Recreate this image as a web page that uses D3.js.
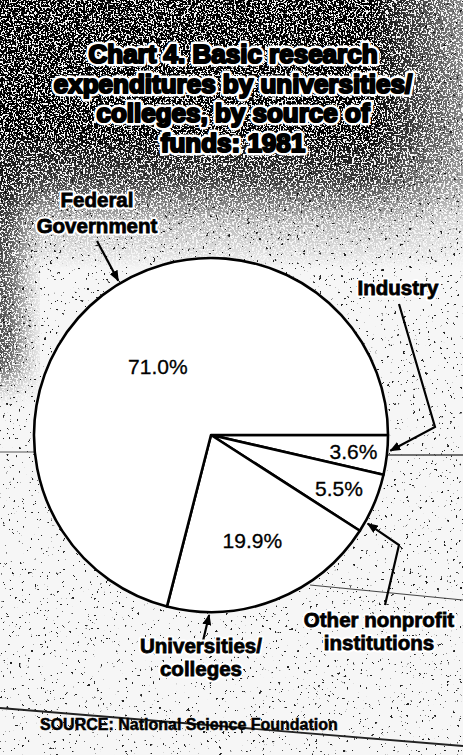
<!DOCTYPE html>
<html><head><meta charset="utf-8">
<script src="https://cdn.jsdelivr.net/npm/d3@7"></script>
<style>html,body{margin:0;padding:0;background:#fff;} svg{display:block;}</style>
</head><body>
<script>
// ---- data ----
const titleLines = ["Chart 4. Basic research", "expenditures by universities/", "colleges, by source of", "funds: 1981"];
const categories = ["Industry", "Other nonprofit institutions", "Universities/colleges", "Federal Government"];
const shares = [3.6, 5.5, 19.9, 71.0];
const shareLabels = ["3.6%", "5.5%", "19.9%", "71.0%"];
const categoryLabelLines = [["Industry"], ["Other nonprofit", "institutions"], ["Universities/", "colleges"], ["Federal", "Government"]];
const sourceNote = "SOURCE: National Science Foundation";

// ---- layout ----
const W = 463, H = 755;
const cx = 211, cy = 435, R = 177;
const FONT = "'Liberation Sans', Arial, Helvetica, sans-serif";

const svg = d3.select("body").append("svg").attr("width", W).attr("height", H);
const defs = svg.append("defs");

function speckFilter(id, freq, thresh, seed, oct) {
  const f = defs.append("filter").attr("id", id)
    .attr("filterUnits", "userSpaceOnUse").attr("x", 0).attr("y", 0).attr("width", W).attr("height", H)
    .attr("color-interpolation-filters", "sRGB");
  f.append("feTurbulence").attr("type", "fractalNoise").attr("baseFrequency", freq)
    .attr("numOctaves", oct).attr("seed", seed).attr("result", "n");
  const k = 25;
  f.append("feColorMatrix").attr("in", "n").attr("type", "matrix")
    .attr("values", `0 0 0 0 0  0 0 0 0 0  0 0 0 0 0  ${k} 0 0 0 ${-k * thresh}`);
}
speckFilter("speckLight", 0.32, 0.71, 7, 3);
speckFilter("speckDense", 0.55, 0.43, 3, 2);

const blur = defs.append("filter").attr("id", "mblur").attr("x", "-50%").attr("y", "-50%").attr("width", "200%").attr("height", "200%");
blur.append("feGaussianBlur").attr("stdDeviation", 14);

// density mask for dark top region
const g1 = defs.append("linearGradient").attr("id", "gTop").attr("x1", 0).attr("y1", 0).attr("x2", 0).attr("y2", 1);
[[0, 1], [0.22, 1], [0.3, 0.75], [0.37, 0.25], [0.45, 0]].forEach(([o, a]) =>
  g1.append("stop").attr("offset", o).attr("stop-color", "#fff").attr("stop-opacity", a));
const g2 = defs.append("linearGradient").attr("id", "gRight").attr("x1", 0).attr("y1", 0).attr("x2", 1).attr("y2", 0);
[[0, 1], [0.8, 1], [1, 0.45]].forEach(([o, a]) =>
  g2.append("stop").attr("offset", o).attr("stop-color", "#fff").attr("stop-opacity", a));

const m = defs.append("mask").attr("id", "darkMask").attr("maskUnits", "userSpaceOnUse")
  .attr("x", 0).attr("y", 0).attr("width", W).attr("height", H);
m.append("rect").attr("width", W).attr("height", 600).attr("fill", "url(#gTop)");
m.append("rect").attr("x", -20).attr("y", 160).attr("width", 40).attr("height", 220)
  .attr("fill", "#fff").attr("fill-opacity", 0.75).attr("filter", "url(#mblur)");
const m2 = defs.append("mask").attr("id", "rightFade").attr("maskUnits", "userSpaceOnUse")
  .attr("x", 0).attr("y", 0).attr("width", W).attr("height", H);
m2.append("rect").attr("width", W).attr("height", H).attr("fill", "url(#gRight)");

// arrow marker
defs.append("marker").attr("id", "arrow").attr("markerUnits", "userSpaceOnUse")
  .attr("markerWidth", 11).attr("markerHeight", 9).attr("refX", 10).attr("refY", 4.5).attr("orient", "auto")
  .append("path").attr("d", "M0,0 L11,4.5 L0,9 Z").attr("fill", "#000");

// ---- background ----
svg.append("rect").attr("width", W).attr("height", H).attr("fill", "#f6f6f6");
svg.append("rect").attr("width", W).attr("height", H).attr("filter", "url(#speckLight)").attr("opacity", 0.85);
const dark = svg.append("g").attr("mask", "url(#rightFade)");
dark.append("rect").attr("width", W).attr("height", H).attr("filter", "url(#speckDense)").attr("mask", "url(#darkMask)");

// scan artifact lines
const art = svg.append("g").attr("fill", "none").attr("stroke", "#222");
art.append("line").attr("x1", 0).attr("y1", 708).attr("x2", W).attr("y2", 746).attr("stroke-width", 1.8);
art.append("line").attr("x1", 388).attr("y1", 455).attr("x2", W).attr("y2", 455).attr("stroke-width", 1.3).attr("stroke", "#444");
art.append("line").attr("x1", 0).attr("y1", 452).attr("x2", 36).attr("y2", 452).attr("stroke-width", 1.2).attr("stroke", "#555");
art.append("line").attr("x1", 310).attr("y1", 585).attr("x2", W).attr("y2", 600).attr("stroke-width", 1.2).attr("stroke", "#444");

// ---- title ----
const title = svg.append("g").attr("font-family", FONT).attr("font-weight", "bold").attr("font-size", 26)
  .attr("text-anchor", "middle");
titleLines.forEach((t, i) => {
  const y = 63 + i * 29.5;
  title.append("text").attr("x", 233).attr("y", y).text(t)
    .attr("fill", "#fff").attr("stroke", "#fff").attr("stroke-width", 7).attr("stroke-linejoin", "round");
  title.append("text").attr("x", 233).attr("y", y).text(t)
    .attr("fill", "#000").attr("stroke", "#000").attr("stroke-width", 2.2).attr("stroke-linejoin", "round");
});

// ---- pie ----
const pie = d3.pie().sort(null).value(d => d)
  .startAngle(Math.PI / 2).endAngle(Math.PI / 2 + 2 * Math.PI);
const arcs = pie(shares);
const arc = d3.arc().innerRadius(0).outerRadius(R);
const pg = svg.append("g").attr("transform", `translate(${cx},${cy})`);
pg.selectAll("path.slice").data(arcs).join("path").attr("class", "slice")
  .attr("d", arc).attr("fill", "#fff").attr("stroke", "#000").attr("stroke-width", 2.6)
  .attr("stroke-linejoin", "round");

// percent labels (radius fraction for each slice label)
const labelRadiusFrac = [0.81, 0.785, 0.64, 0.49];
pg.selectAll("text.pct").data(arcs).join("text").attr("class", "pct")
  .attr("transform", (d, i) => {
    const c = d3.arc().innerRadius(R * labelRadiusFrac[i]).outerRadius(R * labelRadiusFrac[i]).centroid(d);
    return `translate(${c[0]},${c[1] + 7.5})`;
  })
  .attr("text-anchor", "middle").attr("font-family", FONT).attr("font-size", 21)
  .attr("fill", "#000").attr("stroke", "#000").attr("stroke-width", 0.3).text((d, i) => shareLabels[i]);

// ---- category labels + leader lines ----
const polar = (deg, r) => [cx + r * Math.sin(deg * Math.PI / 180), cy - r * Math.cos(deg * Math.PI / 180)];
const labelLayout = [
  { x: 398, y: 295, path: [[399, 304], [435, 427]], tipDeg: 95 },
  { x: 379, y: 627, path: [[385, 605], [399, 545]], tipDeg: 119.5 },
  { x: 201, y: 653, path: [[203, 641]], tipDeg: 180.6 },
  { x: 97, y: 207, path: [[97, 241]], tipDeg: 329 }
];
const lines = svg.append("g");
labelLayout.forEach((L, i) => {
  const pts = L.path.concat([polar(L.tipDeg, R + 3)]);
  lines.append("path").attr("d", d3.line()(pts)).attr("fill", "none").attr("stroke", "#000")
    .attr("stroke-width", 2.2).attr("stroke-linejoin", "miter").attr("marker-end", "url(#arrow)");
});
const lab = svg.append("g").attr("font-family", FONT).attr("font-weight", "bold").attr("font-size", 20.5)
  .attr("text-anchor", "middle");
categories.forEach((c, i) => {
  const L = labelLayout[i];
  categoryLabelLines[i].forEach((t, j) => {
    const y = L.y + j * (i === 3 ? 26 : 22.5);
    lab.append("text").attr("x", L.x).attr("y", y).text(t)
      .attr("fill", "#fff").attr("stroke", "#fff").attr("stroke-width", 5).attr("stroke-linejoin", "round");
    lab.append("text").attr("x", L.x).attr("y", y).text(t)
      .attr("fill", "#000").attr("stroke", "#000").attr("stroke-width", 0.8);
  });
});

// ---- source ----
svg.append("text").attr("x", 40).attr("y", 730).attr("font-family", FONT).attr("font-weight", "bold")
  .attr("font-size", 16).attr("fill", "#000").attr("stroke", "#000").attr("stroke-width", 0.5)
  .text(sourceNote);
</script>
</body></html>
